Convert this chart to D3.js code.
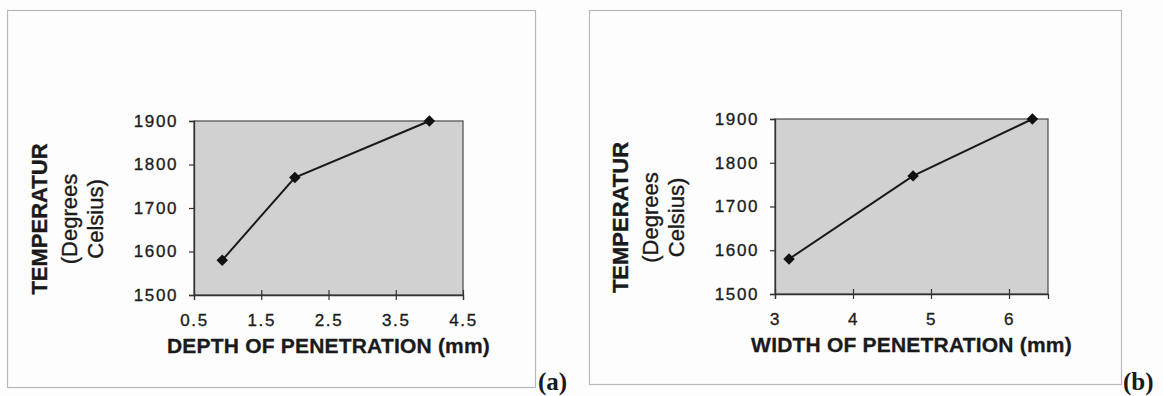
<!DOCTYPE html>
<html>
<head>
<meta charset="utf-8">
<script src="https://cdn.jsdelivr.net/npm/d3@7"></script>
<style>
  body { margin: 0; background: #fff; }
  text { font-family: Arial, "Liberation Sans", sans-serif; fill: #1a1a1a; }
</style>
</head>
<body>
<div id="charts"></div>
<script>
// two small excel-style line charts: temperature vs depth / width of penetration

// data
let tempVals   = [ 1580, 1770, 1900 ] ;
let depthVals  = [ 0.92, 2.0, 4.0 ] ;
let widthVals  = [ 3.18, 4.77, 6.3 ] ;

let tempTicks  = [ 1500, 1600, 1700, 1800, 1900 ] ;
let depthTicks = [ 0.5, 1.5, 2.5, 3.5, 4.5 ] ;
let widthTicks = [ 3, 4, 5, 6 ] ;

let svgwidth  = 1163 ;
let svgheight = 396 ;

let svg = d3.select("#charts").append("svg")
            .attr("width", svgwidth)
            .attr("height", svgheight) ;

svg.append("rect")
    .attr("width", svgwidth).attr("height", svgheight)
    .attr("fill", "#fdfdfd") ;

let charts = [
  { frame: [7, 10, 535, 387], plot: [194, 121, 463, 295], xdom: [0.5, 4.5], xs: depthVals,
    xticks: depthTicks, xtitle: "DEPTH OF PENETRATION (mm)", tag: "(a)", tagx: 538 },
  { frame: [589, 10, 1121, 384], plot: [775, 119, 1048, 294], xdom: [3, 6.5], xs: widthVals,
    xticks: widthTicks, xtitle: "WIDTH OF PENETRATION (mm)", tag: "(b)", tagx: 1123 }
] ;

makeChart = (c)=>{

  // outer chart frame
  svg.append("rect")
      .attr("x", c.frame[0] + 0.5).attr("y", c.frame[1] + 0.5)
      .attr("width", c.frame[2] - c.frame[0]).attr("height", c.frame[3] - c.frame[1])
      .attr("fill", "none").attr("stroke", "#b8b8b8").attr("stroke-width", 1.2) ;

  let [l, t, r, b] = c.plot ;

  let x = d3.scaleLinear().domain(c.xdom).range([l, r]) ;
  let y = d3.scaleLinear().domain([1500, 1900]).range([b, t]) ;

  // plot area
  svg.append("rect")
      .attr("x", l).attr("y", t)
      .attr("width", r - l).attr("height", b - t)
      .attr("fill", "#d1d1d1").attr("stroke", "#555").attr("stroke-width", 1.3) ;

  // Y axis
  let gy = svg.append("g")
      .attr("transform", "translate(" + l + ",0)")
      .call( d3.axisLeft(y).tickValues(tempTicks).tickSize(5).tickPadding(11).tickFormat(d3.format("d")) ) ;

  // X axis, ticks cross the axis line
  let gx = svg.append("g")
      .attr("transform", "translate(0," + b + ")")
      .call( d3.axisBottom(x).tickValues(c.xticks).tickSize(5).tickPadding(14).tickFormat(d => d) ) ;
  gx.selectAll(".tick line").attr("y1", -5) ;

  [gx, gy].forEach(g => {
    g.select(".domain").attr("stroke", "#333").attr("stroke-width", 1.3) ;
    g.selectAll(".tick line").attr("stroke", "#333").attr("stroke-width", 1.2) ;
    g.selectAll(".tick text")
      .attr("fill", "#222")
      .attr("stroke", "#222").attr("stroke-width", 0.35)
      .style("font-size", "17px")
      .style("letter-spacing", "1.6px")
      .style("font-family", "Arial, 'Liberation Sans', sans-serif") ;
  }) ;

  // axis titles
  svg.append("text")
      .attr("x", (l + r) / 2).attr("y", b + 58)
      .attr("text-anchor", "middle")
      .attr("stroke", "#1a1a1a").attr("stroke-width", 0.3)
      .style("font-size", "21px").style("font-weight", "bold").style("letter-spacing", "0.2px")
      .text(c.xtitle) ;

  let ymid = (t + b) / 2 + 11 ;
  let ylines = [ ["TEMPERATUR", -147, "bold"], ["(Degrees", -117, "normal"], ["Celsius)", -91, "normal"] ] ;
  ylines.forEach(d => {
    svg.append("text")
        .attr("transform", "translate(" + (l + d[1]) + "," + ymid + ") rotate(-90)")
        .attr("text-anchor", "middle")
        .attr("stroke", "#1a1a1a").attr("stroke-width", 0.35)
        .style("font-size", "22px").style("font-weight", d[2])
        .text(d[0]) ;
  }) ;

  // the line
  let pts = c.xs.map((v, i) => ({ x: v, y: tempVals[i] })) ;

  svg.append("path")
      .datum(pts)
      .attr("fill", "none")
      .attr("stroke", "#1a1a1a")
      .attr("stroke-width", 2)
      .attr("d", d3.line().x(d => x(d.x)).y(d => y(d.y)) ) ;

  svg.selectAll(null)
      .data(pts)
      .enter().append("path")
      .attr("transform", d => "translate(" + x(d.x) + "," + y(d.y) + ") rotate(45)")
      .attr("d", d3.symbol(d3.symbolSquare, 66))
      .attr("fill", "#111") ;

  // panel tag
  svg.append("text")
      .attr("x", c.tagx).attr("y", 390)
      .style("font-family", "'Times New Roman', 'Liberation Serif', serif")
      .style("font-size", "25px").style("font-weight", "bold")
      .text(c.tag) ;
}

charts.forEach(makeChart) ;
</script>
</body>
</html>
